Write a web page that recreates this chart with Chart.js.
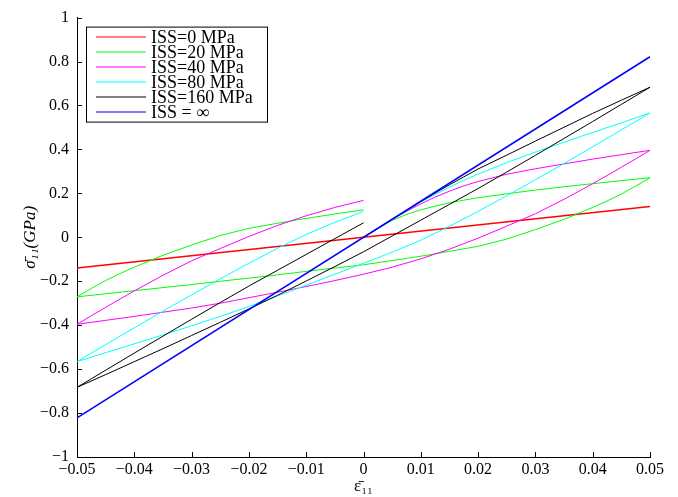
<!DOCTYPE html>
<html>
<head>
<meta charset="UTF-8">
<title>ISS hysteresis loops</title>
<script src="https://cdn.jsdelivr.net/npm/chart.js"></script>
<style>
  html, body { margin: 0; padding: 0; background: #fff; }
</style>
</head>
<body>
<canvas id="issChart" width="678" height="497"></canvas>
<script>
// strain grids for the three branches of each loop
const xLoad   = [0, 0.0025, 0.005, 0.0075, 0.01, 0.0125, 0.015, 0.0175, 0.02, 0.025, 0.03, 0.035, 0.04, 0.045, 0.05];
const xUnload = [0.05, 0.0475, 0.045, 0.0425, 0.04, 0.035, 0.03, 0.025, 0.02, 0.015, 0.01, 0.005, 0,
                 -0.005, -0.01, -0.015, -0.02, -0.025, -0.03, -0.035, -0.04, -0.045, -0.05];
const xReload = [-0.05, -0.0475, -0.045, -0.0425, -0.04, -0.035, -0.03, -0.025, -0.02, -0.015, -0.01, -0.005, 0];
const xStraight = [-0.05, 0.05];

const issLabels = ['ISS=0 MPa', 'ISS=20 MPa', 'ISS=40 MPa', 'ISS=80 MPa', 'ISS=160 MPa', 'ISS = \u221E'];
const issColors = ['#ff0000', '#00ff00', '#ff00ff', '#00ffff', '#000000', '#0000ff'];

// ISS = 0
const redLine = [-0.14, 0.14];

// ISS = 20
const greenLoad   = [0, 0.04, 0.077, 0.104, 0.125, 0.142, 0.157, 0.169, 0.18, 0.198, 0.215, 0.23, 0.244, 0.258, 0.271];
const greenUnload = [0.271, 0.233, 0.197, 0.165, 0.136, 0.082, 0.035, -0.008, -0.041, -0.064, -0.086, -0.106, -0.125,
                     -0.14, -0.155, -0.171, -0.186, -0.2, -0.215, -0.229, -0.243, -0.257, -0.271];
const greenReload = [-0.271, -0.233, -0.197, -0.165, -0.136, -0.082, -0.035, 0.008, 0.041, 0.064, 0.086, 0.106, 0.125];

// ISS = 40
const magentaLoad   = [0, 0.041, 0.081, 0.118, 0.152, 0.183, 0.21, 0.234, 0.254, 0.287, 0.312, 0.334, 0.356, 0.376, 0.396];
const magentaUnload = [0.396, 0.357, 0.319, 0.281, 0.244, 0.173, 0.107, 0.051, -0.004, -0.054, -0.098, -0.136, -0.168,
                       -0.197, -0.224, -0.25, -0.275, -0.3, -0.322, -0.341, -0.36, -0.378, -0.396];
const magentaReload = [-0.396, -0.357, -0.319, -0.281, -0.244, -0.173, -0.107, -0.051, 0.004, 0.054, 0.098, 0.136, 0.168];

// ISS = 80
const cyanLoad   = [0, 0.041, 0.082, 0.121, 0.16, 0.195, 0.228, 0.259, 0.288, 0.34, 0.388, 0.433, 0.477, 0.521, 0.566];
const cyanUnload = [0.566, 0.527, 0.489, 0.45, 0.412, 0.336, 0.262, 0.189, 0.118, 0.05, -0.013, -0.068, -0.118,
                    -0.168, -0.218, -0.267, -0.315, -0.36, -0.403, -0.444, -0.485, -0.525, -0.566];
const cyanReload = [-0.566, -0.527, -0.489, -0.45, -0.412, -0.336, -0.262, -0.189, -0.118, -0.05, 0.013, 0.068, 0.118];

// ISS = 160
const blackLoad   = [0, 0.041, 0.082, 0.122, 0.163, 0.201, 0.239, 0.275, 0.311, 0.374, 0.438, 0.501, 0.564, 0.624, 0.683];
const blackUnload = [0.683, 0.644, 0.605, 0.566, 0.527, 0.45, 0.373, 0.297, 0.222, 0.15, 0.078, 0.006, -0.066,
                     -0.133, -0.199, -0.264, -0.326, -0.387, -0.447, -0.507, -0.566, -0.625, -0.683];
const blackReload = [-0.683, -0.644, -0.605, -0.566, -0.527, -0.45, -0.373, -0.297, -0.222, -0.15, -0.078, -0.006, 0.066];

// ISS = infinity
const blueLine = [-0.822, 0.822];

const xTicks = [-0.05, -0.04, -0.03, -0.02, -0.01, 0, 0.01, 0.02, 0.03, 0.04, 0.05];
const xTickLabels = ['\u22120.05', '\u22120.04', '\u22120.03', '\u22120.02', '\u22120.01', '0', '0.01', '0.02', '0.03', '0.04', '0.05'];
const yTicks = [-1, -0.8, -0.6, -0.4, -0.2, 0, 0.2, 0.4, 0.6, 0.8, 1];
const yTickLabels = ['\u22121', '\u22120.8', '\u22120.6', '\u22120.4', '\u22120.2', '0', '0.2', '0.4', '0.6', '0.8', '1'];

const serif = '"Liberation Serif", "Times New Roman", serif';

function pts(xs, ys) {
    return xs.map((x, i) => ({x: x, y: ys[i]}));
}

// load 0 -> 0.05, unload 0.05 -> -0.05, reload -0.05 -> 0
function loop(load, unload, reload) {
    return pts(xLoad, load).concat(pts(xUnload, unload), pts(xReload, reload));
}

const seriesPoints = [
    pts(xStraight, redLine),
    loop(greenLoad, greenUnload, greenReload),
    loop(magentaLoad, magentaUnload, magentaReload),
    loop(cyanLoad, cyanUnload, cyanReload),
    loop(blackLoad, blackUnload, blackReload),
    pts(xStraight, blueLine)
];

const datasets = seriesPoints.map((data, i) => ({
    label: issLabels[i],
    data: data,
    showLine: true,
    borderColor: issColors[i],
    backgroundColor: issColors[i],
    borderWidth: (i === 0 || i === 5) ? 1.6 : 1,
    pointRadius: 0,
    tension: 0,
    order: 5 - i   // later series on top, like matlab
}));

// matlab-style ticks pointing into the plot
const inwardTicks = {
    id: 'inwardTicks',
    afterDatasetsDraw(chart) {
        const {ctx, chartArea: a, scales: {x, y}} = chart;
        ctx.save();
        ctx.strokeStyle = '#000';
        ctx.lineWidth = 1;
        ctx.beginPath();
        xTicks.forEach(v => {
            const px = Math.round(x.getPixelForValue(v)) + 0.5;
            ctx.moveTo(px, a.bottom);
            ctx.lineTo(px, a.bottom - 5);
        });
        yTicks.forEach(v => {
            const py = Math.round(y.getPixelForValue(v)) + 0.5;
            ctx.moveTo(a.left, py);
            ctx.lineTo(a.left + 5, py);
        });
        ctx.stroke();
        ctx.restore();
    }
};

// boxed legend in the top left corner of the plot
const boxLegend = {
    id: 'boxLegend',
    afterDraw(chart) {
        const ctx = chart.ctx;
        const a = chart.chartArea;
        const x0 = a.left + 9, y0 = a.top + 9, w = 181, h = 95;
        ctx.save();
        ctx.fillStyle = '#fff';
        ctx.fillRect(x0, y0, w, h);
        ctx.strokeStyle = '#000';
        ctx.lineWidth = 1;
        ctx.strokeRect(x0 + 0.5, y0 + 0.5, w, h);
        ctx.font = '18px ' + serif;
        ctx.textBaseline = 'middle';
        chart.data.datasets.forEach((ds, i) => {
            const ly = Math.round(y0 + 10 + i * 15);
            ctx.strokeStyle = ds.borderColor;
            ctx.lineWidth = 1.2;
            ctx.beginPath();
            ctx.moveTo(x0 + 10, ly);
            ctx.lineTo(x0 + 60, ly);
            ctx.stroke();
            ctx.fillStyle = '#000';
            ctx.fillText(ds.label, x0 + 65, ly + 1);
        });
        ctx.restore();
    }
};

const ctx = document.getElementById('issChart').getContext('2d');

new Chart(ctx, {
    type: 'scatter',
    data: {datasets: datasets},
    options: {
        responsive: false,
        animation: false,
        devicePixelRatio: 1,
        layout: {padding: {top: 14, right: 28, left: 0, bottom: 0}},
        plugins: {
            legend: {display: false},
            tooltip: {enabled: false}
        },
        scales: {
            x: {
                type: 'linear',
                min: -0.05,
                max: 0.05,
                afterBuildTicks: s => { s.ticks = xTicks.map(v => ({value: v})); },
                afterFit: s => { s.height = 40; },
                ticks: {
                    callback: (v, i) => xTickLabels[i],
                    font: {family: serif, size: 16},
                    color: '#000',
                    padding: 3,
                    maxRotation: 0,
                    autoSkip: false
                },
                grid: {drawOnChartArea: false, drawTicks: false},
                border: {display: true, color: '#000', width: 1},
                title: {
                    display: true,
                    text: '\u03B5\u0304\u2081\u2081',
                    font: {family: serif, size: 17},
                    color: '#000',
                    padding: {top: 0, bottom: 0}
                }
            },
            y: {
                type: 'linear',
                min: -1,
                max: 1,
                afterBuildTicks: s => { s.ticks = yTicks.map(v => ({value: v})); },
                afterFit: s => { s.width = 77; },
                ticks: {
                    callback: (v, i) => yTickLabels[i],
                    font: {family: serif, size: 16},
                    color: '#000',
                    padding: 8,
                    autoSkip: false
                },
                grid: {drawOnChartArea: false, drawTicks: false},
                border: {display: true, color: '#000', width: 1},
                title: {
                    display: true,
                    text: '\u03C3\u0304\u2081\u2081(GPa)',
                    font: {family: serif, size: 17, style: 'italic'},
                    color: '#000',
                    padding: {top: 20, bottom: 0}
                }
            }
        }
    },
    plugins: [inwardTicks, boxLegend]
});
</script>
</body>
</html>
